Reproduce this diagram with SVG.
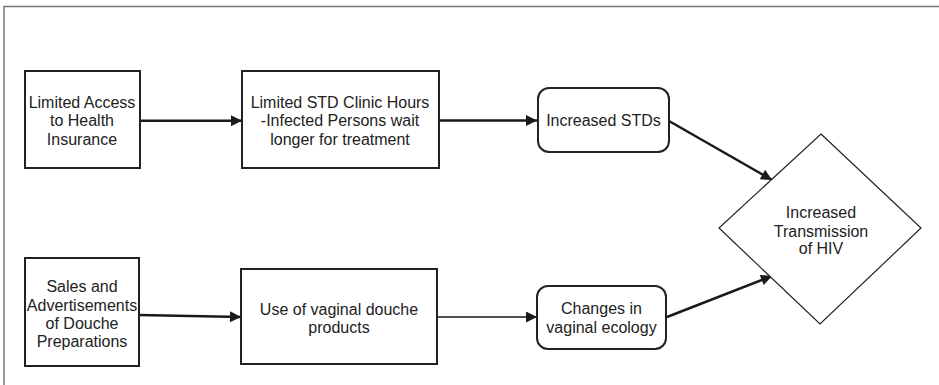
<svg xmlns="http://www.w3.org/2000/svg" width="939" height="385" viewBox="0 0 939 385">
<style>
.box{fill:#fff;stroke:#222;stroke-width:2}
.dia{fill:#fff;stroke:#222;stroke-width:1.2}
.t{font-family:"Liberation Sans",Arial,sans-serif;font-size:16px;fill:#222;text-anchor:middle}
.c{fill:none;stroke:#1a1a1a;stroke-width:2.5}
.c2{fill:none;stroke:#1a1a1a;stroke-width:1.6}
</style>
<defs>
<marker id="ah" viewBox="0 0 10 10" refX="10" refY="5" markerUnits="userSpaceOnUse" markerWidth="15" markerHeight="11" orient="auto">
<path d="M0,0 L10,5 L0,10 z" fill="#1a1a1a"/>
</marker>
</defs>
<rect width="939" height="385" fill="#fff"/>
<path d="M4,385 V6.5 H939" fill="none" stroke="#777" stroke-width="1.5"/>
<g id="connectors">
<line class="c" x1="140" y1="120.7" x2="242" y2="120.7" marker-end="url(#ah)"/>
<line class="c" x1="439" y1="120.5" x2="537" y2="120.5" marker-end="url(#ah)"/>
<line class="c" x1="669" y1="121" x2="772" y2="180" marker-end="url(#ah)"/>
<line class="c" x1="139" y1="315" x2="241" y2="317" marker-end="url(#ah)"/>
<line class="c2" x1="437" y1="317" x2="537" y2="317" marker-end="url(#ah)"/>
<line class="c" x1="667" y1="317" x2="772" y2="276" marker-end="url(#ah)"/>
</g>
<g id="n1">
<rect class="box" x="25" y="71" width="115" height="97"/>
<text class="t"><tspan x="82" y="107.5">Limited Access</tspan><tspan x="82" y="126">to Health</tspan><tspan x="82" y="144.5">Insurance</tspan></text>
</g>
<g id="n2">
<rect class="box" x="242" y="71" width="197" height="97"/>
<text class="t"><tspan x="340" y="107.5">Limited STD Clinic Hours</tspan><tspan x="340" y="126">-Infected Persons wait</tspan><tspan x="340" y="144.5">longer for treatment</tspan></text>
</g>
<g id="n3">
<rect class="box" x="538" y="88" width="131" height="64" rx="11"/>
<text class="t" x="603.5" y="125.5">Increased STDs</text>
</g>
<g id="n4">
<rect class="box" x="25" y="258" width="114" height="108"/>
<text class="t"><tspan x="82" y="291.5">Sales and</tspan><tspan x="82" y="311">Advertisements</tspan><tspan x="82" y="329">of Douche</tspan><tspan x="82" y="346.5">Preparations</tspan></text>
</g>
<g id="n5">
<rect class="box" x="241" y="269" width="196" height="95"/>
<text class="t"><tspan x="339" y="314.5">Use of vaginal douche</tspan><tspan x="339" y="333">products</tspan></text>
</g>
<g id="n6">
<rect class="box" x="537" y="286" width="129" height="63" rx="11"/>
<text class="t"><tspan x="601.5" y="313.5">Changes in</tspan><tspan x="601.5" y="333">vaginal ecology</tspan></text>
</g>
<g id="n7">
<polygon class="dia" points="821,134 921,228 820,324 719,228"/>
<text class="t"><tspan x="821" y="217.5">Increased</tspan><tspan x="821" y="236.5">Transmission</tspan><tspan x="821" y="254">of HIV</tspan></text>
</g>
</svg>
